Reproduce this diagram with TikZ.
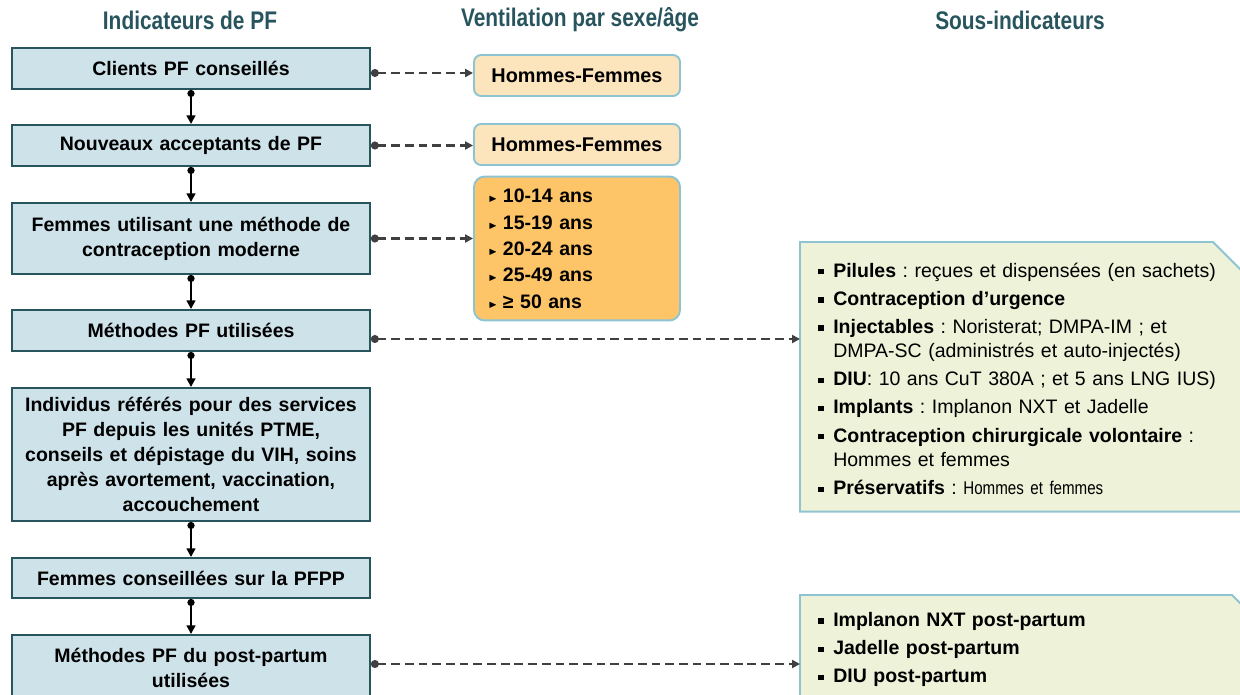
\documentclass[tikz,border=0pt]{standalone}
\usepackage{amssymb}
\usepackage{fontspec}
\setmainfont{Liberation Sans}
\newfontfamily\narrowfont[FakeStretch=0.82]{Liberation Sans}
\usetikzlibrary{arrows.meta, positioning, backgrounds}
\definecolor{tealdark}{RGB}{40,84,94}
\definecolor{boxblue}{RGB}{205,226,233}
\definecolor{edgeblue}{RGB}{142,196,210}
\definecolor{paleorange}{RGB}{252,228,188}
\definecolor{ageorange}{RGB}{253,196,104}
\definecolor{palegreen}{RGB}{237,242,216}
\definecolor{dashgray}{RGB}{64,64,64}
\frenchspacing
\newcommand{\sqbul}{\raisebox{0.25ex}{\rule{3pt}{3pt}}}
\newcommand{\gitem}[1]{\par\hangindent=8.5pt\hangafter=1\noindent\makebox[8.5pt][l]{\sqbul}#1}
\newcommand{\aitem}[1]{\par\noindent\makebox[8.5pt][l]{\raisebox{0.1ex}{\tiny$\blacktriangleright$}}#1}
\newcommand{\padbottom}[1]{\par\nointerlineskip\kern#1\hbox{}}

\begin{document}
\begin{tikzpicture}[x=0.02cm, y=-0.02cm,
    header/.style={font=\narrowfont\bfseries\fontsize{14.5}{16}\selectfont, text=tealdark},
    indbox/.style={draw=tealdark, line width=1.1pt, fill=boxblue,
                   minimum width=7.16cm, text width=7cm, inner sep=0pt, align=center,
                   font=\bfseries\fontsize{11.1}{14.2}\selectfont},
    sexbox/.style={draw=edgeblue, line width=1.1pt, fill=paleorange, rounded corners=4pt,
                   minimum width=4.12cm, minimum height=0.82cm,
                   font=\bfseries\fontsize{11.3}{14}\selectfont},
    agebox/.style={draw=edgeblue, line width=1.1pt, fill=ageorange, rounded corners=6pt,
                   minimum height=2.66cm, text width=3.56cm, inner xsep=0.28cm, inner ysep=0pt,
                   align=left, font=\bfseries\fontsize{11.1}{15}\selectfont},
    subtext/.style={anchor=north west, text width=8.3cm, inner xsep=0.36cm, inner ysep=0pt,
                    align=left, font=\fontsize{11.1}{13.9}\selectfont},
    subshape/.style={draw=edgeblue, line width=1.1pt, fill=palegreen},
    flow/.style={line width=1.4pt, {Circle[length=4pt]}-{Triangle[length=5pt,width=5pt]}},
    link/.style={dashgray, line width=1.6pt, dash pattern=on 5pt off 2.8pt,
                 {Circle[length=4.5pt]}-{Triangle[length=4.5pt,width=4.5pt]}}]
  \path[use as bounding box, clip] (0,0) rectangle (1240,694);

  % column titles
  \node[header] (h1) at (190,20) {Indicateurs de PF};
  \node[header] (h2) at (580,20) {Ventilation par sexe/âge};
  \node[header] (h3) at (1020,20) {Sous-indicateurs};

  % indicateurs
  \node[indbox, minimum height=0.82cm] (b1) at (191,68.5) {Clients PF conseillés};
  \node[indbox, minimum height=0.82cm] (b2) at (191,145.5) {Nouveaux acceptants de PF};
  \node[indbox, minimum height=1.42cm] (b3) at (191,238.5)
    {Femmes utilisant une méthode de\\contraception moderne};
  \node[indbox, minimum height=0.82cm] (b4) at (191,330.5) {Méthodes PF utilisées};
  \node[indbox, minimum height=2.66cm] (b5) at (191,454.5)
    {Individus référés pour des services\\PF depuis les unités PTME,\\conseils et dépistage du VIH, soins\\après avortement, vaccination,\\accouchement};
  \node[indbox, minimum height=0.8cm] (b6) at (191,578) {Femmes conseillées sur la PFPP};
  \node[indbox, minimum height=1.32cm] (b7) at (191,668)
    {Méthodes PF du post-partum\\utilisées};

  % ventilation
  \node[sexbox] (sex1) at (577,75.5) {Hommes-Femmes};
  \node[sexbox] (sex2) at (577,144.5) {Hommes-Femmes};
  \node[agebox] (age) at (577,248.5) {%
    \aitem{10-14 ans}\aitem{15-19 ans}\aitem{20-24 ans}\aitem{25-49 ans}\aitem{≥ 50 ans}%
    \padbottom{6.8pt}};

  % sous-indicateurs
  \node[subtext, minimum height=5.38cm] (sub1) at (800,242) {\setlength{\parskip}{2.1pt}%
    \gitem{\textbf{Pilules} : reçues et dispensées (en sachets)}
    \gitem{\textbf{Contraception d’urgence}}
    \gitem{\textbf{Injectables} : Noristerat; DMPA-IM ; et\newline DMPA-SC (administrés et auto-injectés)}
    \gitem{\textbf{DIU}: 10 ans CuT 380A ; et 5 ans LNG IUS)}
    \gitem{\textbf{Implants} : Implanon NXT et Jadelle}
    \gitem{\textbf{Contraception chirurgicale volontaire} :\newline Hommes et femmes}
    \gitem{\textbf{Préservatifs} : {\narrowfont\fontsize{10.5}{13.9}\selectfont Hommes et femmes}}%
    \padbottom{5.7pt}};
  \node[subtext, minimum height=2.08cm] (sub2) at (800,595) {\setlength{\parskip}{2.1pt}%
    \gitem{\textbf{Implanon NXT post-partum}}
    \gitem{\textbf{Jadelle post-partum}}
    \gitem{\textbf{DIU post-partum}}%
    \padbottom{5.7pt}};
  \begin{scope}[on background layer]
    \filldraw[subshape] (sub1.north west) -- ++(413,0) -- ++(80,80) |- (sub1.south west) -- cycle;
    \filldraw[subshape] (sub2.north west) -- ++(432,0) -- ++(80,80) |- (sub2.south west) -- cycle;
  \end{scope}

  % liens
  \draw[flow] (b1.south) -- (b2.north);
  \draw[flow] (b2.south) -- (b3.north);
  \draw[flow] (b3.south) -- (b4.north);
  \draw[flow] (b4.south) -- (b5.north);
  \draw[flow] (b5.south) -- (b6.north);
  \draw[flow] (b6.south) -- (b7.north);
  \draw[link] ([yshift=-0.09cm]b1.east) coordinate (l1) -- (l1 -| sex1.west);
  \draw[link] (b2.east) -- (b2.east -| sex2.west);
  \draw[link] (b3.east) -- (b3.east -| age.west);
  \draw[link] ([yshift=-0.17cm]b4.east) coordinate (l4) -- (l4 -| sub1.west);
  \draw[link] ([yshift=0.08cm]b7.east) coordinate (l7) -- (l7 -| sub2.west);
\end{tikzpicture}
\end{document}
